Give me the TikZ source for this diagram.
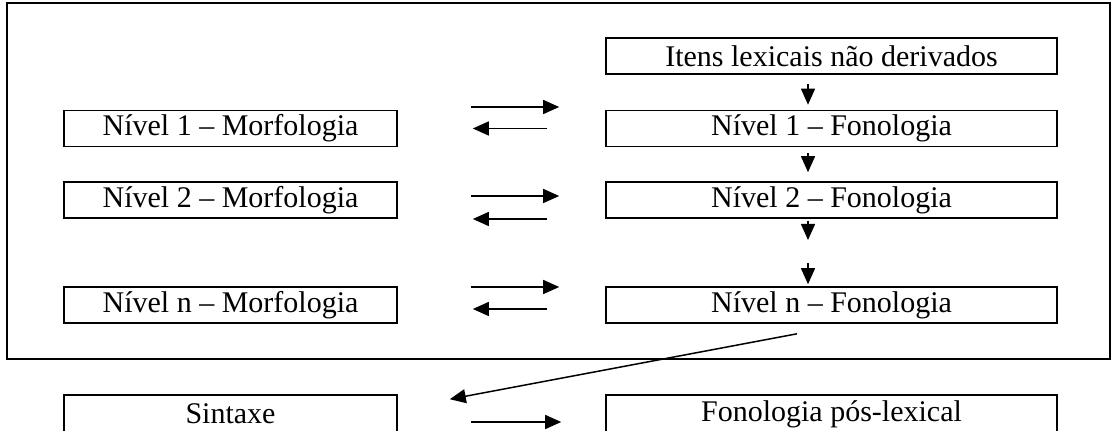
\documentclass[tikz,border=0pt]{standalone}
\usepackage{fontspec}
\setmainfont{Liberation Serif}
\usetikzlibrary{arrows.meta}
\tikzset{
  box/.style={draw, line width=0.8pt, minimum height=18pt, inner sep=0pt, font=\fontsize{15}{17}\selectfont},
  mbox/.style={box, minimum width=166.5pt},
  fbox/.style={box, minimum width=225.5pt},
  arr/.style={-{Triangle[length=8pt, width=7pt]}, line width=0.75pt},
  rarr/.style={arr, shorten <=36.5pt, shorten >=23pt},
  larr/.style={arr, shorten <=29pt, shorten >=37.5pt},
}

\begin{document}
\begin{tikzpicture}[x=0.5pt, y=-0.5pt]
  \clip (0,0) rectangle (1118,431);
  % lexical block
  \draw[line width=1pt] (7,3) rectangle (1110,359);
  \node[fbox] (itens) at (831.5,56) {Itens lexicais não derivados};
  \node[mbox] (mor1) at (230.5,128.5) {Nível 1 – Morfologia};
  \node[fbox] (fon1) at (831.5,128.5) {Nível 1 – Fonologia};
  \node[mbox] (mor2) at (230.5,200) {Nível 2 – Morfologia};
  \node[fbox] (fon2) at (831.5,200) {Nível 2 – Fonologia};
  \node[mbox] (morn) at (230.5,305) {Nível n – Morfologia};
  \node[fbox] (fonn) at (831.5,305) {Nível n – Fonologia};
  % post-lexical
  \node[mbox, minimum height=19pt] (syn) at (230.5,414) {Sintaxe};
  \node[fbox, minimum height=19pt] (pos) at (831.5,414) {Fonologia pós-lexical};
  \coordinate (col) at (808,0);
  \coordinate (dots) at (808,251.5);
  % phonology chain
  \draw[arr, shorten <=4.5pt, shorten >=2.5pt] (itens.south -| col) -- (fon1.north -| col);
  \draw[arr, shorten <=3pt, shorten >=4.5pt] (fon1.south -| col) -- (fon2.north -| col);
  \draw[arr, shorten <=1pt, shorten >=5.75pt] (fon2.south -| col) -- (dots);
  \draw[arr, shorten <=5.75pt, shorten >=1pt] (dots) -- (fonn.north -| col);
  % morphology <-> phonology
  \foreach \r/\up/\dn in {1/10.75/0, 2/2/-9.5, n/9/-2} {
    \draw[rarr] ([yshift=\up pt]mor\r.east) -- ([yshift=\up pt]fon\r.west);
    \draw[larr] ([yshift=\dn pt]fon\r.west) -- ([yshift=\dn pt]mor\r.east);
  }
  \draw[arr] ([xshift=-17.25pt, yshift=-5pt]fonn.south) -- ([xshift=26pt, yshift=-2.5pt]syn.north east);
  \draw[arr, shorten <=36.5pt, shorten >=22pt] ([yshift=-4pt]syn.east) -- ([yshift=-4pt]pos.west);
\end{tikzpicture}
\end{document}
